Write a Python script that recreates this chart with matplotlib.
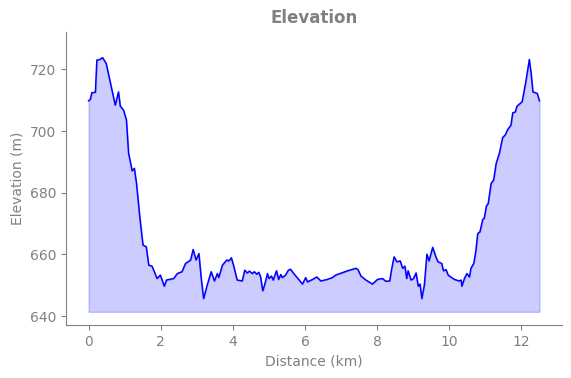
import matplotlib
matplotlib.use("Agg")
import matplotlib.pyplot as plt
import numpy as np

# distance (km) and elevation (m)
distance_km = [
    0.00, 0.05, 0.09, 0.19, 0.23, 0.31, 0.39, 0.49, 0.56, 0.65,
    0.74, 0.83, 0.88, 0.97, 1.05, 1.11, 1.21, 1.27, 1.33, 1.42,
    1.51, 1.60, 1.67, 1.76, 1.90, 1.99, 2.10, 2.16, 2.36, 2.46,
    2.59, 2.69, 2.83, 2.90, 2.98, 3.06, 3.12, 3.19, 3.29, 3.40,
    3.49, 3.57, 3.61, 3.71, 3.83, 3.89, 3.96, 4.03, 4.12, 4.26,
    4.33, 4.40, 4.46, 4.54, 4.60, 4.66, 4.72, 4.77, 4.83, 4.88,
    4.96, 5.00, 5.07, 5.12, 5.21, 5.27, 5.33, 5.37, 5.46, 5.54,
    5.60, 5.69, 5.93, 6.02, 6.07, 6.21, 6.33, 6.44, 6.62, 6.76,
    6.85, 7.18, 7.41, 7.47, 7.55, 7.69, 7.87, 8.01, 8.15, 8.24,
    8.35, 8.40, 8.47, 8.55, 8.64, 8.71, 8.77, 8.82, 8.86, 8.94,
    9.01, 9.08, 9.14, 9.19, 9.24, 9.31, 9.38, 9.44, 9.54, 9.63,
    9.69, 9.79, 9.84, 9.91, 9.97, 10.14, 10.28, 10.33, 10.35, 10.42,
    10.49, 10.56, 10.60, 10.68, 10.74, 10.79, 10.85, 10.93, 10.97, 11.03,
    11.08, 11.16, 11.23, 11.30, 11.39, 11.48, 11.55, 11.62, 11.71, 11.76,
    11.83, 11.88, 11.97, 12.02, 12.13, 12.22, 12.27, 12.32, 12.44, 12.50,
]
elevation_m = [
    709.8, 710.3, 712.4, 712.6, 723.0, 723.2, 723.8, 721.9, 718.1, 713.3,
    708.4, 712.7, 708.1, 706.8, 703.6, 692.8, 687.1, 687.9, 683.0, 672.2,
    663.0, 662.5, 656.5, 656.2, 652.2, 653.3, 649.7, 651.7, 652.2, 653.8,
    654.4, 657.1, 658.2, 661.6, 658.2, 660.3, 652.7, 645.7, 650.1, 654.4,
    651.4, 653.8, 652.5, 656.5, 658.2, 657.9, 658.9, 656.0, 651.7, 651.4,
    654.9, 654.0, 654.6, 653.8, 654.4, 653.6, 654.2, 652.7, 648.2, 650.1,
    653.8, 652.2, 653.0, 651.7, 654.7, 651.9, 653.5, 652.5, 653.3, 654.9,
    655.2, 653.8, 650.4, 652.5, 651.1, 651.9, 652.7, 651.4, 651.9, 652.5,
    653.3, 654.7, 655.5, 655.1, 653.0, 651.7, 650.4, 651.9, 652.2, 651.3,
    651.4, 655.1, 659.2, 657.6, 657.9, 655.5, 656.2, 652.2, 654.7, 651.7,
    652.2, 654.0, 649.7, 650.4, 645.7, 650.1, 660.1, 657.9, 662.3, 659.2,
    657.6, 657.1, 654.7, 655.1, 653.3, 651.9, 651.4, 651.7, 649.7, 652.2,
    653.8, 652.7, 655.5, 657.1, 661.4, 666.8, 667.3, 671.4, 671.7, 675.7,
    676.5, 683.0, 684.1, 689.5, 692.8, 697.9, 698.7, 700.5, 701.9, 705.9,
    706.2, 708.1, 709.0, 709.5, 716.5, 723.2, 718.7, 712.7, 712.2, 709.8,
]
fill_base_m = 641.4

grey = "#808080"

fig = plt.figure(figsize=(5.71, 3.78), dpi=100)
ax = fig.add_axes([0.1156, 0.140, 0.8686, 0.776])

x = np.array(distance_km)
y = np.array(elevation_m)
ax.fill_between(x, y, fill_base_m, color="blue", alpha=0.2)
ax.plot(x, y, color="blue", linewidth=1.1)

ax.set_ylim(637.1, 732.2)
ax.set_xticks([0, 2, 4, 6, 8, 10, 12])
ax.set_yticks([640, 660, 680, 700, 720])

ax.set_title("Elevation", color=grey, fontsize=12, fontweight="bold")
ax.set_xlabel("Distance (km)", color=grey)
ax.set_ylabel("Elevation (m)", color=grey)

for side in ("top", "right"):
    ax.spines[side].set_visible(False)
for side in ("left", "bottom"):
    ax.spines[side].set_color(grey)
ax.tick_params(colors=grey, labelcolor=grey)

fig.savefig("out.png", dpi=100)
